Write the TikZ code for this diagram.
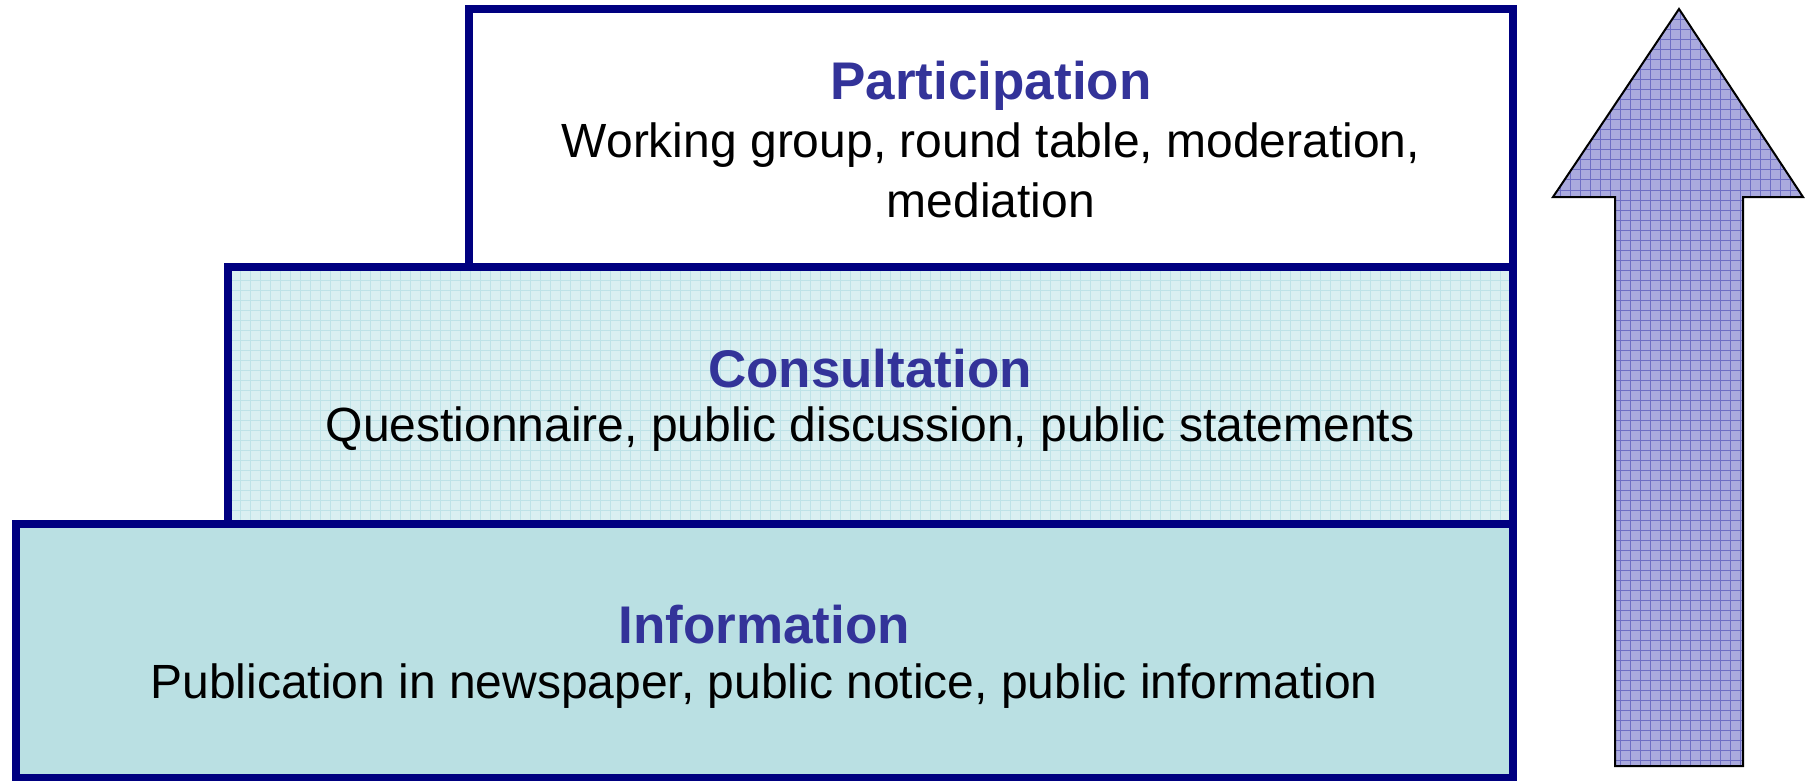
\documentclass[tikz,border=0pt]{standalone}
\usepackage{fontspec}
\setmainfont{Liberation Sans}
\definecolor{navy}{RGB}{0,0,128}
\definecolor{titleblue}{RGB}{51,51,153}
\definecolor{infofill}{RGB}{186,224,227}
\definecolor{consfill}{RGB}{218,239,241}
\definecolor{consgrid}{RGB}{190,226,231}
\definecolor{arrowfill}{RGB}{170,170,222}
\definecolor{arrowgrid}{RGB}{110,110,196}
\tikzset{
  levelbox/.style={draw=navy, line width=4pt, line join=miter},
  ttl/.style={anchor=base, inner sep=0pt, text=titleblue, font=\fontsize{26.5}{31}\selectfont\bfseries},
  body/.style={anchor=base, inner sep=0pt, align=center, font=\fontsize{24}{30}\selectfont},
  uparrow/.style={draw=black, line width=1pt, line join=miter}
}
\begin{document}
\begin{tikzpicture}[x=0.5pt,y=-0.5pt]
\useasboundingbox (0,0) rectangle (1805,781);
% Information level
\path[fill=infofill] (16,524) rectangle (1513,778);
% Consultation level with fine grid
\path[fill=consfill] (228,267) rectangle (1513,524);
\begin{scope}
  \clip (228,267) rectangle (1513,524);
  \draw[consgrid, line width=0.5pt, step=5pt] (228,267) grid (1513,524);
\end{scope}
% Participation level
\path[fill=white] (469,9) rectangle (1513,267);
% borders
\draw[levelbox] (16,524) rectangle (1513,778);
\draw[levelbox] (228,267) rectangle (1513,524);
\draw[levelbox] (469,9) rectangle (1513,267);
% texts
\node[ttl] (ptitle) at (991,100) {Participation};
\node[body] (pbody) at (991,217) {Working group, round table, moderation,\\ mediation};
\node[ttl] (ctitle) at (870,387) {Consultation};
\node[body] (cbody) at (870,441) {Questionnaire, public discussion, public statements};
\node[ttl] (ititle) at (764,643) {Information};
\node[body] (ibody) at (764,698) {Publication in newspaper, public notice, public information};
% arrow
\path[fill=arrowfill] (1679,9) -- (1803,197) -- (1743,197) -- (1743,766) -- (1615,766) -- (1615,197) -- (1553,197) -- cycle;
\begin{scope}
  \clip (1679,9) -- (1803,197) -- (1743,197) -- (1743,766) -- (1615,766) -- (1615,197) -- (1553,197) -- cycle;
  \draw[arrowgrid, line width=0.5pt, step=5pt] (1550,5) grid (1805,770);
\end{scope}
\draw[uparrow] (1679,9) -- (1803,197) -- (1743,197) -- (1743,766) -- (1615,766) -- (1615,197) -- (1553,197) -- cycle;
\end{tikzpicture}
\end{document}
